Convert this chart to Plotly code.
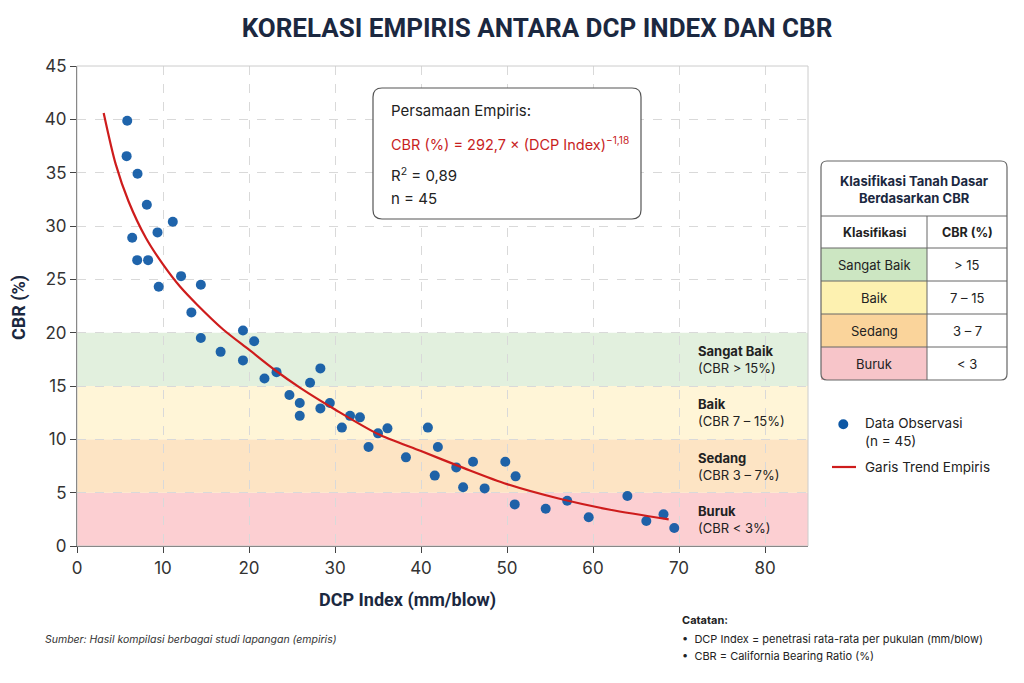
import plotly.graph_objects as go

# ---------------- data ----------------
dcp_index = [5.84, 5.77, 7.04, 8.12, 11.14, 9.36, 6.42, 7.0, 8.27, 12.1,
             14.4, 9.5, 13.3, 19.3, 14.4, 20.6, 16.7, 19.3, 21.8, 23.2,
             28.3, 27.1, 24.7, 25.9, 25.9, 28.3, 29.4, 30.8, 31.75, 32.9,
             33.9, 35.0, 36.1, 38.25, 40.8, 41.96, 41.6, 44.1, 46.05, 44.9,
             47.4, 49.8, 51.0, 50.9, 54.5, 57.0, 59.5, 64.0, 66.2, 68.2, 69.45]
cbr_obs = [39.86, 36.55, 34.9, 32.0, 30.4, 29.4, 28.9, 26.8, 26.8, 25.3,
           24.5, 24.3, 21.9, 20.2, 19.5, 19.2, 18.2, 17.4, 15.7, 16.3,
           16.65, 15.3, 14.15, 13.4, 12.2, 12.9, 13.4, 11.1, 12.2, 12.06,
           9.28, 10.56, 11.03, 8.31, 11.1, 9.28, 6.6, 7.37, 7.9, 5.5,
           5.4, 7.9, 6.53, 3.9, 3.5, 4.25, 2.69, 4.69, 2.34, 2.97, 1.69]

trend_x = [3.1, 4.5, 6.0, 8.0, 10.0, 12.0, 14.0, 17.0, 20.0, 23.0,
           26.0, 30.0, 35.0, 40.0, 45.0, 50.0, 56.0, 62.0, 68.8]
trend_y = [40.6, 35.8, 32.3, 28.9, 26.4, 24.3, 22.6, 20.3, 18.4, 16.5,
           14.8, 12.8, 10.5, 8.9, 7.3, 5.8, 4.45, 3.4, 2.5]

band_low = [0, 5, 10, 15]
band_high = [5, 10, 15, 20]
band_fill = ["rgb(252,207,210)", "rgb(253,228,196)", "rgb(255,245,215)", "rgb(226,240,222)"]
band_name = ["Buruk", "Sedang", "Baik", "Sangat Baik"]
band_desc = ["(CBR < 3%)", "(CBR 3 – 7%)", "(CBR 7 – 15%)", "(CBR > 15%)"]

table_class = ["Sangat Baik", "Baik", "Sedang", "Buruk"]
table_cbr = ["> 15", "7 – 15", "3 – 7", "< 3"]
table_fill = ["rgb(204,230,194)", "rgb(253,241,176)", "rgb(250,212,155)", "rgb(247,197,201)"]

notes = ["<b>Catatan:</b>",
         "•  DCP Index = penetrasi rata-rata per pukulan (mm/blow)",
         "•  CBR = California Bearing Ratio (%)"]

x_ticks = [0, 10, 20, 30, 40, 50, 60, 70, 80]
y_ticks = [0, 5, 10, 15, 20, 25, 30, 35, 40, 45]

# ---------------- geometry helpers (pixel -> paper) ----------------
L, R, T, B = 77, 808, 66, 546
PW, PH = R - L, B - T


def X(p):
    return (p - L) / PW


def Y(p):
    return (B - p) / PH


def rounded_rect(x0, y0, x1, y1, r):
    rx, ry = r / PW, r / PH
    a, b, c, d = X(x0), X(x1), Y(y1), Y(y0)  # left, right, bottom, top (paper)
    return (f"M {a+rx},{d} L {b-rx},{d} Q {b},{d} {b},{d-ry} "
            f"L {b},{c+ry} Q {b},{c} {b-rx},{c} L {a+rx},{c} "
            f"Q {a},{c} {a},{c+ry} L {a},{d-ry} Q {a},{d} {a+rx},{d} Z")


FONT = "Inter, Roboto, Arial, sans-serif"
TITLE_FONT = "Roboto, Inter, Arial, sans-serif"
NAVY = "#1b2840"

fig = go.Figure()

fig.add_trace(go.Scatter(
    x=dcp_index, y=cbr_obs, mode="markers", name="Data Observasi",
    marker=dict(size=10, color="rgb(14,88,165)", opacity=0.93),
    showlegend=False))

fig.add_trace(go.Scatter(
    x=trend_x, y=trend_y, mode="lines", name="Garis Trend Empiris",
    line=dict(color="rgb(206,28,28)", width=2.2, shape="spline", smoothing=0.8),
    showlegend=False))

shapes = []
annotations = []

# classification bands
for lo, hi, col, nm, ds in zip(band_low, band_high, band_fill, band_name, band_desc):
    shapes.append(dict(type="rect", xref="paper", yref="y", x0=0, x1=1, y0=lo, y1=hi,
                       fillcolor=col, line=dict(width=0), layer="below"))
    annotations.append(dict(xref="paper", yref="y", x=X(696), y=(lo + hi) / 2,
                            xanchor="left", yanchor="middle", align="left", showarrow=False,
                            text=f"<b>{nm}</b><br>{ds}",
                            font=dict(family=FONT, size=13, color="#222")))

# plot-area frame (light)
shapes.append(dict(type="rect", xref="paper", yref="paper", x0=0, x1=1, y0=0, y1=1,
                   line=dict(color="#cccccc", width=1), layer="above"))

# equation box
shapes.append(dict(type="path", xref="paper", yref="paper",
                   path=rounded_rect(373, 88, 641, 219, 9),
                   fillcolor="white", line=dict(color="#555", width=1.2), layer="above"))
annotations += [
    dict(xref="paper", yref="paper", x=X(389), y=Y(110), xanchor="left", yanchor="middle",
         showarrow=False, text="Persamaan Empiris:", font=dict(family=FONT, size=15, color="#222")),
    dict(xref="paper", yref="paper", x=X(389), y=Y(143), xanchor="left", yanchor="middle",
         showarrow=False, text="CBR (%) = 292,7 × (DCP Index)<sup>−1,18</sup>",
         font=dict(family=FONT, size=14.5, color="rgb(200,30,30)")),
    dict(xref="paper", yref="paper", x=X(389), y=Y(175), xanchor="left", yanchor="middle",
         showarrow=False, text="R<sup>2</sup> = 0,89", font=dict(family=FONT, size=15, color="#222")),
    dict(xref="paper", yref="paper", x=X(389), y=Y(198), xanchor="left", yanchor="middle",
         showarrow=False, text="n = 45", font=dict(family=FONT, size=15, color="#222")),
]

# classification table
tx0, tx1, ty0, ty1, tdiv = 821, 1007, 161, 380, 927
row_edges = [248, 281, 314, 347, 380]
shapes.append(dict(type="path", xref="paper", yref="paper",
                   path=rounded_rect(tx0, ty0, tx1, ty1, 6),
                   fillcolor="white", line=dict(width=0), layer="above"))
for i, col in enumerate(table_fill):
    shapes.append(dict(type="rect", xref="paper", yref="paper",
                       x0=X(tx0), x1=X(tdiv), y0=Y(row_edges[i + 1]), y1=Y(row_edges[i]),
                       fillcolor=col, line=dict(width=0), layer="above"))
for yy in [216] + row_edges[:-1]:
    shapes.append(dict(type="line", xref="paper", yref="paper", x0=X(tx0), x1=X(tx1),
                       y0=Y(yy), y1=Y(yy), line=dict(color="#666", width=1), layer="above"))
shapes.append(dict(type="line", xref="paper", yref="paper", x0=X(tdiv), x1=X(tdiv),
                   y0=Y(216), y1=Y(ty1), line=dict(color="#666", width=1), layer="above"))
shapes.append(dict(type="path", xref="paper", yref="paper",
                   path=rounded_rect(tx0, ty0, tx1, ty1, 6),
                   line=dict(color="#666", width=1.2), layer="above"))
annotations.append(dict(xref="paper", yref="paper", x=X((tx0 + tx1) / 2), y=Y(189),
                        xanchor="center", yanchor="middle", showarrow=False,
                        text="<b>Klasifikasi Tanah Dasar<br>Berdasarkan CBR</b>",
                        font=dict(family=FONT, size=13, color=NAVY)))
annotations.append(dict(xref="paper", yref="paper", x=X((tx0 + tdiv) / 2), y=Y(232),
                        xanchor="center", yanchor="middle", showarrow=False,
                        text="<b>Klasifikasi</b>", font=dict(family=FONT, size=12.5, color="#222")))
annotations.append(dict(xref="paper", yref="paper", x=X((tdiv + tx1) / 2), y=Y(232),
                        xanchor="center", yanchor="middle", showarrow=False,
                        text="<b>CBR (%)</b>", font=dict(family=FONT, size=12.5, color="#222")))
for i, (c, v) in enumerate(zip(table_class, table_cbr)):
    yc = (row_edges[i] + row_edges[i + 1]) / 2
    annotations.append(dict(xref="paper", yref="paper", x=X((tx0 + tdiv) / 2), y=Y(yc),
                            xanchor="center", yanchor="middle", showarrow=False, text=c,
                            font=dict(family=FONT, size=13, color="#222")))
    annotations.append(dict(xref="paper", yref="paper", x=X((tdiv + tx1) / 2), y=Y(yc),
                            xanchor="center", yanchor="middle", showarrow=False, text=v,
                            font=dict(family=FONT, size=13, color="#222")))

# manual legend
shapes.append(dict(type="circle", xref="paper", yref="paper",
                   x0=X(838.3), x1=X(848.3), y0=Y(429.3), y1=Y(419.3),
                   fillcolor="rgb(14,88,165)", line=dict(width=0), layer="above"))
shapes.append(dict(type="line", xref="paper", yref="paper",
                   x0=X(832), x1=X(856), y0=Y(467), y1=Y(467),
                   line=dict(color="rgb(206,28,28)", width=2.2), layer="above"))
annotations.append(dict(xref="paper", yref="paper", x=X(863), y=Y(432), xanchor="left",
                        yanchor="middle", align="left", showarrow=False,
                        text="Data Observasi<br>(n = 45)",
                        font=dict(family=FONT, size=13.5, color="#222")))
annotations.append(dict(xref="paper", yref="paper", x=X(863), y=Y(467), xanchor="left",
                        yanchor="middle", showarrow=False, text="Garis Trend Empiris",
                        font=dict(family=FONT, size=13.5, color="#222")))

# axis titles
annotations.append(dict(xref="paper", yref="paper", x=X(407), y=Y(600), xanchor="center",
                        yanchor="middle", showarrow=False, text="<b>DCP Index (mm/blow)</b>",
                        font=dict(family=TITLE_FONT, size=18, color=NAVY)))
annotations.append(dict(xref="paper", yref="paper", x=X(19), y=Y(308), xanchor="center",
                        yanchor="middle", showarrow=False, text="<b>CBR (%)</b>", textangle=-90,
                        font=dict(family=TITLE_FONT, size=18, color=NAVY)))

# footnotes
annotations.append(dict(xref="paper", yref="paper", x=X(43), y=Y(639), xanchor="left",
                        yanchor="middle", showarrow=False,
                        text="<i>Sumber: Hasil kompilasi berbagai studi lapangan (empiris)</i>",
                        font=dict(family=FONT, size=10.5, color="#333")))
for yy, txt in zip([620, 638.5, 656], notes):
    annotations.append(dict(xref="paper", yref="paper", x=X(680), y=Y(yy), xanchor="left",
                            yanchor="middle", align="left", showarrow=False, text=txt,
                            font=dict(family=FONT, size=11, color="#222")))

fig.update_layout(
    width=1024, height=683,
    margin=dict(l=L, r=1024 - R, t=T, b=683 - B, autoexpand=False),
    paper_bgcolor="white", plot_bgcolor="white",
    title=dict(text="<b>KORELASI EMPIRIS ANTARA DCP INDEX DAN CBR</b>",
               x=537 / 1024, xanchor="center", y=1 - 28 / 683, yanchor="middle",
               font=dict(family=TITLE_FONT, size=26, color=NAVY)),
    shapes=shapes, annotations=annotations,
    xaxis=dict(range=[0, 85], tickvals=x_ticks, showgrid=True, gridcolor="#d9d9d9",
               griddash="dash", gridwidth=1, zeroline=False, showline=True,
               linecolor="#444", linewidth=1.2, ticks="outside", ticklen=6, tickcolor="#444",
               tickfont=dict(family=FONT, size=17, color="#333"), automargin=False),
    yaxis=dict(range=[0, 45], tickvals=y_ticks, showgrid=True, gridcolor="#d9d9d9",
               griddash="dash", gridwidth=1, zeroline=False, showline=True,
               linecolor="#444", linewidth=1.2, ticks="outside", ticklen=6, tickcolor="#444",
               tickfont=dict(family=FONT, size=17, color="#333"), automargin=False),
    hovermode="closest",
)

fig.write_html("out.html")
